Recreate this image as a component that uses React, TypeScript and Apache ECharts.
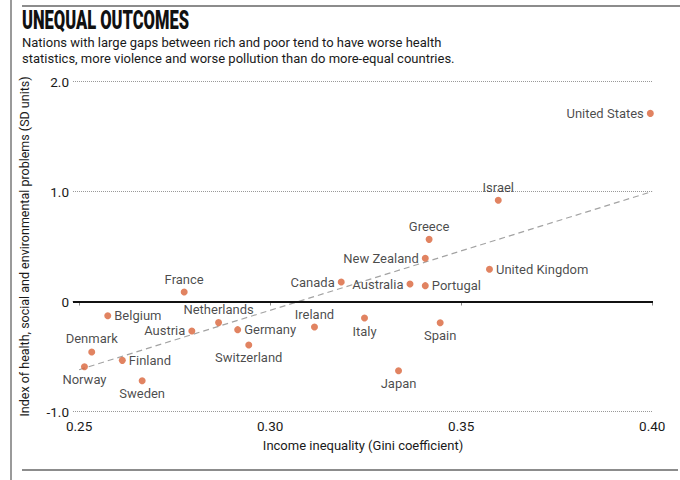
import React, { useEffect, useRef } from "react";
import * as echarts from "echarts";

const countries = [
  "United States", "Israel", "Greece", "New Zealand", "United Kingdom", "Canada",
  "Australia", "Portugal", "France", "Belgium", "Netherlands", "Austria", "Germany",
  "Ireland", "Italy", "Spain", "Switzerland", "Denmark", "Finland", "Norway",
  "Sweden", "Japan",
];
const gini = [
  0.3995, 0.3597, 0.3416, 0.3406, 0.3574, 0.3186,
  0.3366, 0.3406, 0.2775, 0.2575, 0.2865, 0.2795, 0.2915,
  0.3116, 0.3247, 0.3445, 0.2944, 0.2533, 0.2613, 0.2514,
  0.2665, 0.3336,
];
const indexValues = [
  1.71, 0.92, 0.565, 0.393, 0.293, 0.177,
  0.159, 0.144, 0.086, -0.129, -0.192, -0.268, -0.256,
  -0.232, -0.15, -0.193, -0.395, -0.459, -0.535, -0.593,
  -0.72, -0.629,
];
const labelSides = [
  "left", "top", "top", "left", "right", "left",
  "left", "right", "top", "right", "top", "left", "right",
  "top", "bottom", "bottom", "bottom", "top", "right", "bottom",
  "bottom", "bottom",
];
const trendX = [0.25, 0.4];
const trendY = [-0.62, 1.0];
const xTicks = [0.25, 0.3, 0.35, 0.4];
const yTicks = [-1, 0, 1, 2];
const yTickLabels = ["-1.0", "0", "1.0", "2.0"];

const FONT = "Roboto";

export default function App() {
  const ref = useRef<HTMLDivElement>(null);
  useEffect(() => {
    if (!ref.current) return;
    const chart = echarts.init(ref.current, null, { renderer: "svg" });
    const points = countries.map((c, i) => ({
      name: c,
      value: [gini[i], indexValues[i]],
      label: { position: labelSides[i] },
    }));
    chart.setOption({
      animation: false,
      backgroundColor: "#ffffff",
      textStyle: { fontFamily: FONT },
      grid: { left: 73, right: 27, top: 81.5, bottom: 68.5 },
      xAxis: {
        type: "value",
        min: 0.2484,
        max: 0.4002,
        name: "Income inequality (Gini coefficient)",
        nameLocation: "middle",
        nameGap: 27,
        nameTextStyle: { fontSize: 13, color: "#1a1a1a", fontFamily: FONT },
        axisLine: { show: true, lineStyle: { color: "#999", type: "dotted", width: 1 } },
        axisTick: {
          show: true,
          length: 4,
          customValues: xTicks,
          lineStyle: { color: "#888", width: 1 },
        },
        axisLabel: {
          customValues: xTicks,
          margin: 7,
          fontSize: 13.5,
          color: "#1a1a1a",
          fontFamily: FONT,
          formatter: (v: number) => v.toFixed(2),
        },
        splitLine: { show: false },
      },
      yAxis: {
        type: "value",
        min: -1,
        max: 2,
        interval: 1,
        name: "Index of health, social and environmental problems (SD units)",
        nameLocation: "middle",
        nameGap: 42,
        nameTextStyle: { fontSize: 12.5, color: "#1a1a1a", fontFamily: FONT },
        axisLine: { show: false },
        axisTick: { show: false },
        axisLabel: {
          margin: 4,
          fontSize: 13.5,
          color: "#1a1a1a",
          fontFamily: FONT,
          formatter: (v: number) => {
            const i = yTicks.indexOf(Math.round(v));
            return i >= 0 ? yTickLabels[i] : "";
          },
        },
        splitLine: { show: true, lineStyle: { color: "#999", type: "dotted", width: 1 } },
      },
      series: [
        {
          type: "line",
          data: trendX.map((x, i) => [x, trendY[i]]),
          symbol: "none",
          lineStyle: { color: "#a3a3a3", width: 1.2, type: [6, 4] },
          silent: true,
          z: 2,
          markLine: {
            silent: true,
            symbol: "none",
            label: { show: false },
            lineStyle: { color: "#111", width: 2, type: "solid" },
            data: [{ yAxis: 0 }],
          },
        },
        {
          type: "scatter",
          data: points,
          symbolSize: 7,
          itemStyle: { color: "#d9643a" },
          z: 3,
          label: {
            show: true,
            formatter: "{b}",
            fontSize: 13,
            color: "#1a1a1a",
            fontFamily: FONT,
            distance: 3,
          },
        },
      ],
      graphic: [
        { type: "line", shape: { x1: 11, y1: 0, x2: 11, y2: 480 }, style: { stroke: "#9a9a9a", lineWidth: 2 } },
        { type: "line", shape: { x1: 22, y1: 6, x2: 680, y2: 6 }, style: { stroke: "#666", lineWidth: 1.5 } },
        { type: "line", shape: { x1: 22, y1: 470, x2: 678, y2: 470 }, style: { stroke: "#666", lineWidth: 1.5 } },
        {
          type: "text",
          x: 22,
          y: 8,
          scaleX: 0.66,
          style: {
            text: "UNEQUAL OUTCOMES",
            fontFamily: "Roboto",
            fontWeight: 900,
            fontSize: 25,
            fill: "#111",
          },
        },
        {
          type: "text",
          left: 22,
          top: 35,
          style: {
            text: "Nations with large gaps between rich and poor tend to have worse health\nstatistics, more violence and worse pollution than do more-equal countries.",
            fontFamily: "Roboto",
            fontSize: 13,
            lineHeight: 15.5,
            fill: "#1a1a1a",
          },
        },
      ],
    });
    return () => chart.dispose();
  }, []);
  return (
    <div
      ref={ref}
      style={{ position: "fixed", left: 0, top: 0, width: 680, height: 480 }}
    />
  );
}
